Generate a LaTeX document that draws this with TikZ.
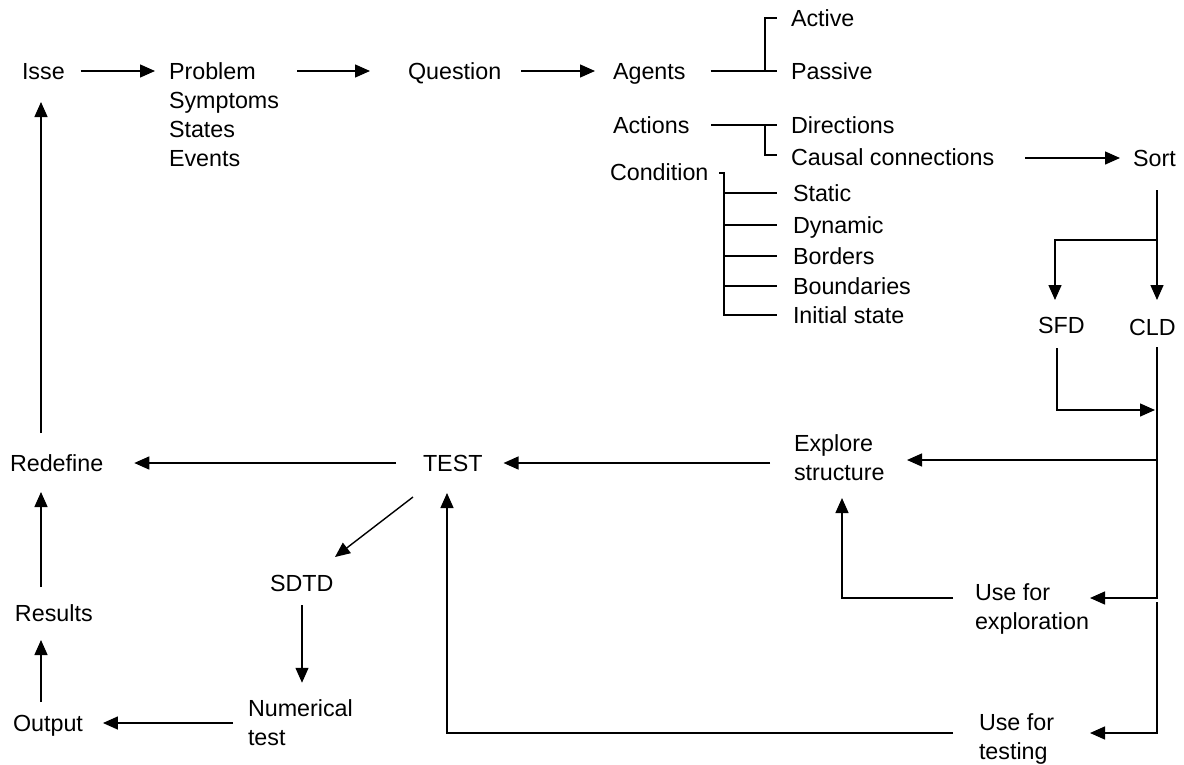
\documentclass[tikz,border=0pt]{standalone}
\usepackage{fontspec}
\setmainfont{Liberation Sans}
\usetikzlibrary{arrows.meta}
\begin{document}
\begin{tikzpicture}[x=1pt,y=-1pt,
  font=\fontsize{23.3}{29}\selectfont,
  lbl/.style={anchor=west,inner sep=0pt,outer sep=0pt,text height=16.5pt,text depth=0pt},
  blk/.style={anchor=north west,inner sep=0pt,outer sep=0pt,align=left},
  ln/.style={line width=1.4pt},
  arr/.style={line width=1.4pt,-{Triangle[length=15pt,width=13pt]}}]
\useasboundingbox[fill=white] (0,0) rectangle (1184,764);
% nodes
\node[lbl] (isse) at (22,71) {Isse};
\node[blk] (prob) at (169,62.75) {Problem\\Symptoms\\States\\Events};
\node[lbl] (quest) at (408,71) {Question};
\node[lbl] (agents) at (613,71) {Agents};
\node[lbl] (active) at (791,18) {Active};
\node[lbl] (passive) at (791,71) {Passive};
\node[lbl] (actions) at (613,125) {Actions};
\node[lbl] (dirs) at (791,125) {Directions};
\node[lbl] (causal) at (791,157) {Causal connections};
\node[lbl] (cond) at (610,172) {Condition};
\node[lbl] (static) at (793,193) {Static};
\node[lbl] (dynamic) at (793,225) {Dynamic};
\node[lbl] (borders) at (793,256) {Borders};
\node[lbl] (bounds) at (793,286) {Boundaries};
\node[lbl] (init) at (793,315) {Initial state};
\node[lbl] (sort) at (1133,158) {Sort};
\node[lbl] (sfd) at (1038,325) {SFD};
\node[lbl] (cld) at (1129,327) {CLD};
\node[blk] (explore) at (794,434.75) {Explore\\structure};
\node[blk] (usex) at (975,583.75) {Use for\\exploration};
\node[blk] (uset) at (979,713.75) {Use for\\testing};
\node[lbl] (test) at (423,463) {TEST};
\node[lbl] (redef) at (10,463) {Redefine};
\node[lbl] (sdtd) at (270,583) {SDTD};
\node[blk] (numt) at (248,699.75) {Numerical\\test};
\node[lbl] (output) at (13,723) {Output};
\node[lbl] (results) at (15,613) {Results};
% top row
\draw[arr] ([xshift=16pt]isse.east) -- ([xshift=-14pt,yshift=-8.25pt]prob.north west);
\draw[arr] ([xshift=128pt,yshift=-8.25pt]prob.north west) -- ([xshift=-38pt]quest.west);
\draw[arr] ([xshift=20pt]quest.east) -- ([xshift=-18pt]agents.west);
% agents bracket
\draw[ln] ([xshift=25pt]agents.east) -- ([xshift=-14pt]passive.west);
\draw[ln] ([xshift=-26pt]passive.west) |- ([xshift=-14pt]active.west);
% actions bracket
\draw[ln] ([xshift=22pt]actions.east) -- ([xshift=-14pt]dirs.west);
\draw[ln] ([xshift=-26pt]dirs.west) |- ([xshift=-14pt,yshift=2pt]causal.west);
% condition tree
\draw[ln] ([xshift=11pt,yshift=-1pt]cond.east) -| ([xshift=-69pt]init.west) -- ([xshift=-16pt]init.west);
\foreach \n in {static,dynamic,borders,bounds}
  \draw[ln] ([xshift=-69pt]\n.west) -- ([xshift=-16pt]\n.west);
% causal -> sort
\draw[arr] ([xshift=31pt]causal.east |- sort.west) -- ([xshift=-13pt]sort.west);
% sort -> SFD / CLD
\coordinate (trunk) at ([xshift=24pt]sort.west);
\draw[arr] ([yshift=-32pt]trunk) -- ([xshift=28pt,yshift=27pt]cld.west);
\draw[arr] ([yshift=-82pt]trunk) -| ([xshift=17pt,yshift=25pt]sfd.west);
% SFD -> CLD line
\draw[arr] ([xshift=19pt,yshift=-23pt]sfd.west) |- ([xshift=26pt,yshift=-83pt]cld.west);
% CLD line and branches
\coordinate (cl) at ([xshift=28pt]cld.west);
\draw[arr] ([yshift=-20pt]cl) |- ([xshift=115pt,yshift=-14.25pt]usex.north west);
\draw[arr] ([yshift=-133pt]cl) -- ([xshift=113pt,yshift=-25.25pt]explore.north west);
\draw[arr] ([yshift=-275pt]cl) |- ([xshift=111pt,yshift=-19.25pt]uset.north west);
% use for exploration -> explore structure
\draw[arr] ([xshift=-22pt,yshift=-14.25pt]usex.north west) -| ([xshift=48pt,yshift=-63.25pt]explore.north west);
% use for testing -> TEST
\draw[arr] ([xshift=-26pt,yshift=-19.25pt]uset.north west) -| ([xshift=24pt,yshift=-30pt]test.west);
% explore -> TEST
\draw[arr] ([xshift=-24pt,yshift=-28.25pt]explore.north west) -- ([xshift=21pt]test.east);
% TEST -> Redefine
\draw[arr] ([xshift=-27pt]test.west) -- ([xshift=31pt]redef.east);
% Redefine -> Isse
\draw[arr] ([xshift=31pt,yshift=30pt]redef.west) -- ([xshift=19pt,yshift=-31pt]isse.west);
% TEST -> SDTD
\draw[arr] ([xshift=-10pt,yshift=-34pt]test.west) -- ([xshift=65pt,yshift=26pt]sdtd.west);
% SDTD -> Numerical test
\draw[arr] ([xshift=32pt,yshift=-22pt]sdtd.west) -- ([xshift=54pt,yshift=17pt]numt.north west);
% Numerical test -> Output
\draw[arr] ([xshift=-15pt,yshift=-23.25pt]numt.north west) -- ([xshift=20pt]output.east);
% Output -> Results
\draw[arr] ([xshift=28pt,yshift=21pt]output.west) -- ([xshift=26pt,yshift=-27pt]results.west);
% Results -> Redefine
\draw[arr] ([xshift=26pt,yshift=26pt]results.west) -- ([xshift=31pt,yshift=-29pt]redef.west);
\end{tikzpicture}
\end{document}
